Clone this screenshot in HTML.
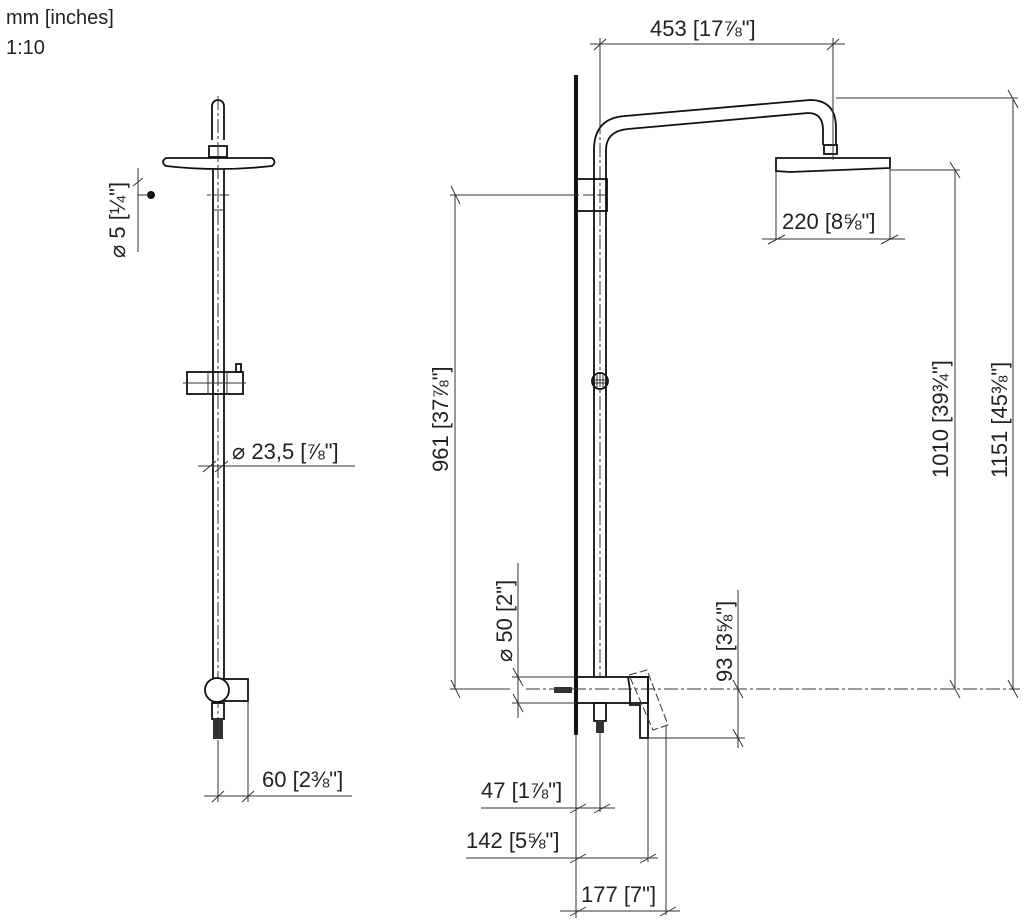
<!DOCTYPE html>
<html><head><meta charset="utf-8"><style>
html,body{margin:0;padding:0;background:#fff;}
svg{display:block;font-family:"Liberation Sans",sans-serif;}
text{fill:#222;font-size:22px;}
.t{stroke:#333;stroke-width:1;fill:none}
.m{stroke:#111;stroke-width:1.8;fill:none}
.c{stroke:#333;stroke-width:1;fill:none;stroke-dasharray:14 3 3 3}
</style></head><body>
<svg width="1024" height="922" viewBox="0 0 1024 922">
<text x="6" y="24" style="font-size:20px">mm [inches]</text>
<text x="6" y="54" style="font-size:20px">1:10</text>

<!-- LEFT FIGURE -->
<path class="m" d="M212 140 V106 a6 6 0 0 1 12 0 V140"/>
<rect class="m" x="209" y="146" width="18" height="11"/>
<path class="m" d="M166 158 H272 Q277 162 272 166 Q218 172 166 166 Q160 162 166 158 Z"/>
<path class="m" d="M213 170 V679 M224 170 V679"/>
<line class="t" x1="207" y1="195" x2="229" y2="195" stroke-dasharray="4 2"/>
<line class="t" x1="213" y1="210" x2="224" y2="210"/>
<line class="c" x1="218" y1="96" x2="218" y2="750"/>
<rect class="m" x="187" y="372" width="56" height="22"/>
<line class="t" x1="208" y1="372" x2="208" y2="394"/><line class="t" x1="227" y1="372" x2="227" y2="394"/>
<rect class="m" x="236" y="364" width="5" height="8"/>
<line class="t" x1="183" y1="383" x2="246" y2="383"/>
<rect class="m" x="217" y="679" width="31" height="22"/>
<circle cx="217" cy="690" r="12" fill="#fff" stroke="#111" stroke-width="1.8"/>
<rect class="m" x="212" y="703" width="12" height="16"/>
<rect x="213" y="719" width="10" height="20" fill="#333"/>
<!-- dia 5 -->
<circle cx="151" cy="195" r="4" fill="#111"/>
<line class="t" x1="138" y1="195" x2="151" y2="195"/>
<line class="t" x1="138" y1="168" x2="138" y2="252"/>
<line class="t" x1="133" y1="186" x2="143" y2="178"/>
<text transform="translate(125,258) rotate(-90)">⌀ 5 [¼"]</text>
<!-- dia 23.5 -->
<line class="t" x1="198" y1="466" x2="355" y2="466"/>
<line class="t" x1="203" y1="472" x2="216" y2="461"/><line class="t" x1="215" y1="472" x2="228" y2="461"/>
<text x="232" y="459">⌀ 23,5 [⅞"]</text>
<!-- 60 -->
<line class="t" x1="218" y1="740" x2="218" y2="802"/>
<line class="t" x1="248" y1="700" x2="248" y2="802"/>
<line class="t" x1="204" y1="796" x2="352" y2="796"/>
<line class="t" x1="212" y1="802" x2="224" y2="791"/><line class="t" x1="242" y1="802" x2="254" y2="791"/>
<text x="262" y="787">60 [2⅜"]</text>

<!-- RIGHT FIGURE -->
<rect x="574" y="75" width="4" height="660" fill="#111"/>
<path class="m" d="M594 677 V150 Q594 118 625 116 L810 100 Q836 100 836 128 V145"/>
<path class="m" d="M606 677 V150 Q606 131 628 129 L808 113 Q823 113 823 130 V145"/>
<rect class="m" x="576" y="179" width="31" height="32"/>
<line class="c" x1="600" y1="120" x2="600" y2="677"/>
<line class="t" x1="555" y1="195" x2="610" y2="195" stroke-dasharray="10 4"/>
<circle class="m" cx="600" cy="381" r="8"/>
<path class="t" d="M597 375 V388 M603 375 V388 M594 380 H606 M594 383 H606"/>
<rect class="m" x="824" y="145" width="13" height="9"/>
<path class="m" d="M776 161 L776 158 H890 L890 168 L790 172 L776 171 Z"/>
<rect class="m" x="576" y="677" width="72" height="26"/>
<path class="m" d="M628 677 H648 V738 H640 V705 H630 V690 Z"/>
<rect x="554" y="687" width="18" height="6" fill="#333"/>
<rect class="m" x="594" y="703" width="12" height="18"/>
<rect x="596" y="721" width="8" height="12" fill="#333"/>
<path class="t" d="M629 675 L647 670 L668 725 L653 730 Z" stroke-dasharray="8 3"/>
<!-- 453 -->
<line class="t" x1="600" y1="38" x2="600" y2="120"/>
<line class="t" x1="833" y1="38" x2="833" y2="160"/>
<line class="t" x1="590" y1="44" x2="845" y2="44"/>
<line class="t" x1="594" y1="50" x2="606" y2="39"/><line class="t" x1="827" y1="50" x2="839" y2="39"/>
<text x="650" y="36">453 [17⅞"]</text>
<!-- 220 -->
<line class="t" x1="776" y1="172" x2="776" y2="240"/>
<line class="t" x1="890" y1="168" x2="890" y2="240"/>
<line class="t" x1="762" y1="239" x2="905" y2="239"/>
<line class="t" x1="768" y1="244" x2="785" y2="235"/><line class="t" x1="881" y1="244" x2="898" y2="235"/>
<text x="782" y="229">220 [8⅝"]</text>
<!-- 1151 / 1010 -->
<line class="t" x1="836" y1="98" x2="1018" y2="98"/>
<line class="t" x1="890" y1="170" x2="960" y2="170"/>
<line class="t" x1="1013" y1="98" x2="1013" y2="690"/>
<line class="t" x1="955" y1="170" x2="955" y2="690"/>
<line class="t" x1="1008" y1="90" x2="1018" y2="108"/><line class="t" x1="950" y1="162" x2="960" y2="178"/>
<line class="t" x1="1008" y1="680" x2="1018" y2="698"/><line class="t" x1="950" y1="680" x2="960" y2="698"/>
<text transform="translate(1007,478) rotate(-90)">1151 [45⅜"]</text>
<text transform="translate(948,478) rotate(-90)">1010 [39¾"]</text>
<!-- baseline -->
<line class="t" x1="450" y1="689" x2="510" y2="689"/>
<line class="t" x1="526" y1="689" x2="1020" y2="689" stroke-dasharray="14 3 3 3"/>
<!-- 961 -->
<line class="t" x1="450" y1="195" x2="575" y2="195"/>
<line class="t" x1="455" y1="195" x2="455" y2="689"/>
<line class="t" x1="451" y1="186" x2="460" y2="204"/><line class="t" x1="451" y1="680" x2="460" y2="698"/>
<text transform="translate(448,472) rotate(-90)">961 [37⅞"]</text>
<!-- dia 50 -->
<line class="t" x1="512" y1="677" x2="576" y2="677"/>
<line class="t" x1="512" y1="703" x2="576" y2="703"/>
<line class="t" x1="518" y1="563" x2="518" y2="718"/>
<line class="t" x1="513" y1="668" x2="523" y2="686"/><line class="t" x1="513" y1="694" x2="523" y2="712"/>
<text transform="translate(512,662) rotate(-90)">⌀ 50 [2"]</text>
<!-- 93 -->
<line class="t" x1="648" y1="738" x2="745" y2="738"/>
<line class="t" x1="738" y1="590" x2="738" y2="748"/>
<line class="t" x1="733" y1="680" x2="743" y2="698"/><line class="t" x1="733" y1="729" x2="743" y2="747"/>
<text transform="translate(732,682) rotate(-90)">93 [3⅝"]</text>
<!-- bottom dims -->
<line class="t" x1="576" y1="735" x2="576" y2="918"/>
<line class="t" x1="600" y1="733" x2="600" y2="812"/>
<line class="t" x1="648" y1="738" x2="648" y2="862"/>
<line class="t" x1="666" y1="725" x2="666" y2="915"/>
<line class="t" x1="481" y1="808" x2="615" y2="808"/>
<line class="t" x1="570" y1="813" x2="586" y2="804"/><line class="t" x1="594" y1="813" x2="610" y2="804"/>
<text x="481" y="798">47 [1⅞"]</text>
<line class="t" x1="466" y1="858" x2="658" y2="858"/>
<line class="t" x1="570" y1="863" x2="586" y2="854"/><line class="t" x1="640" y1="863" x2="656" y2="854"/>
<text x="466" y="848">142 [5⅝"]</text>
<line class="t" x1="560" y1="911" x2="680" y2="911"/>
<line class="t" x1="570" y1="916" x2="586" y2="907"/><line class="t" x1="660" y1="916" x2="676" y2="907"/>
<text x="581" y="902">177 [7"]</text>
</svg>
</body></html>
